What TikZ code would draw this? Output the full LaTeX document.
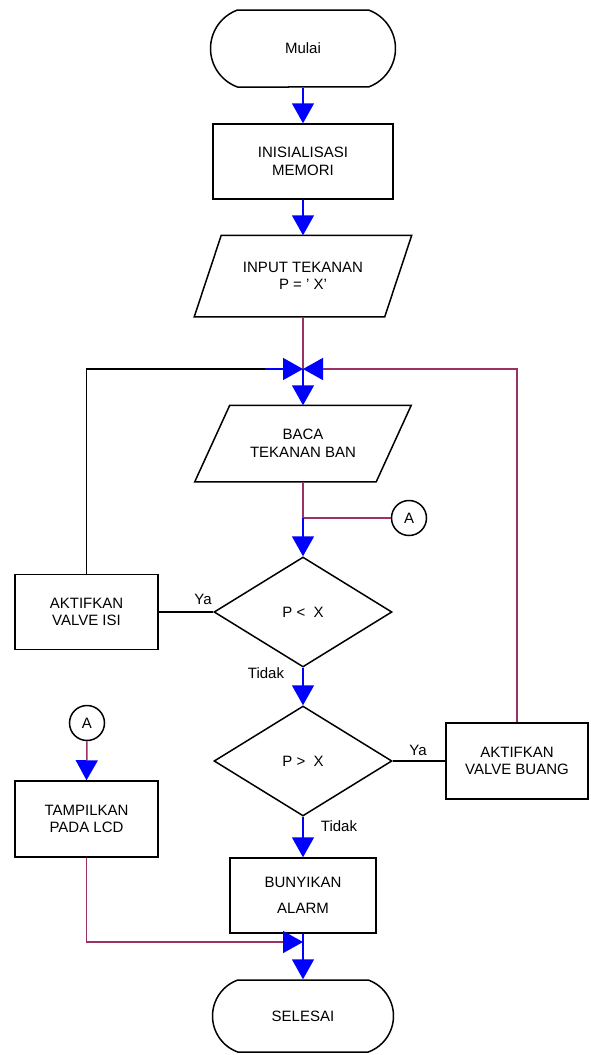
\documentclass[tikz,border=0pt]{standalone}
\usepackage{fontspec}
\setmainfont{Liberation Sans}
\usetikzlibrary{shapes.misc,shapes.geometric,arrows.meta}
\definecolor{pline}{RGB}{153,51,102}
\definecolor{bline}{RGB}{0,0,255}
\begin{document}
\begin{tikzpicture}[x=1pt,y=-1pt, line width=1.5pt,
  txt/.style={font=\fontsize{15}{17.5}\selectfont, align=center},
  box/.style={draw, rectangle, txt, inner sep=0pt},
  term/.style={draw, rounded rectangle, rounded rectangle arc length=140, txt, inner sep=0pt},
  para/.style={rectangle, txt, inner sep=0pt},
  dec/.style={draw, diamond, txt, inner sep=0pt},
  conn/.style={draw, circle, txt, inner sep=0pt, minimum size=35pt},
  lbl/.style={txt, inner sep=0pt},
  blueln/.style={draw=bline},
  purpleln/.style={draw=pline},
  headb/.style={-{Triangle[length=20pt,width=22pt,color=bline,fill=bline]}}
]
\useasboundingbox (0,0) rectangle (590,1055);

\node[term, minimum width=185pt, minimum height=77pt] (mulai) at (303,48.5) {Mulai};
\node[box, minimum width=180pt, minimum height=75pt] (init) at (303,161.5) {INISIALISASI\\MEMORI};
\node[para, minimum width=216pt, minimum height=80pt] (inp) at (303,276) {INPUT TEKANAN\\P = ' X'};
\draw ([xshift=27pt]inp.north west) -- (inp.north east) -- ([xshift=-27pt]inp.south east) -- (inp.south west) -- cycle;
\coordinate (j) at (303,369);
\coordinate (jl) at (265,369);
\node[para, minimum width=215pt, minimum height=75pt] (baca) at (303,443.5) {BACA\\TEKANAN BAN};
\draw ([xshift=35pt]baca.north west) -- (baca.north east) -- ([xshift=-35pt]baca.south east) -- (baca.south west) -- cycle;
\coordinate (k) at (303,518);
\node[conn] (a1) at (409,518) {A};
\node[dec, minimum width=178pt, minimum height=110pt] (d1) at (303,612) {P <\ \ X};
\node[box, minimum width=143pt, minimum height=75pt] (isi) at (86.5,612) {AKTIFKAN\\VALVE ISI};
\node[dec, minimum width=178pt, minimum height=110pt] (d2) at (303,761) {P >\ \ X};
\node[box, minimum width=142pt, minimum height=76pt] (buang) at (517,761) {AKTIFKAN\\VALVE BUANG};
\node[conn] (a2) at (87,723) {A};
\node[box, minimum width=143pt, minimum height=76pt] (lcd) at (86.5,819) {TAMPILKAN\\PADA LCD};
\node[box, minimum width=146pt, minimum height=75pt] (alarm) at (303,895.5) {BUNYIKAN\\[9pt]ALARM};
\coordinate (m) at (303,942);
\node[term, minimum width=181pt, minimum height=72pt] (sel) at (303,1016) {SELESAI};

\node[lbl] (ya1) at (203,599) {Ya};
\node[lbl] (td1) at (266,673) {Tidak};
\node[lbl] (ya2) at (418,750) {Ya};
\node[lbl] (td2) at (339,826) {Tidak};

\draw[blueln, headb] (mulai.south) -- (init.north);
\draw[blueln, headb] (init.south) -- (inp.north);
\draw[purpleln] (inp.south) -- (j);
\draw[blueln, headb] (j) -- (baca.north);
\draw (isi.north) |- (jl);
\draw[blueln, headb] (jl) -- (j);
\draw[purpleln, headb] (buang.north) |- (j);
\draw[purpleln] (baca.south) -- (k);
\draw[purpleln] (k) -- (a1.west);
\draw[blueln, headb] (k) -- (d1.north);
\draw (d1.west) -- (isi.east);
\draw[blueln, headb] (d1.south) -- (d2.north);
\draw (d2.east) -- (buang.west);
\draw[blueln, headb] (d2.south) -- (alarm.north);
\draw[purpleln, headb] (a2.south) -- (lcd.north);
\draw[blueln, headb] (alarm.south) -- (sel.north);
\draw[purpleln, headb] (lcd.south) |- (m);
\end{tikzpicture}
\end{document}
